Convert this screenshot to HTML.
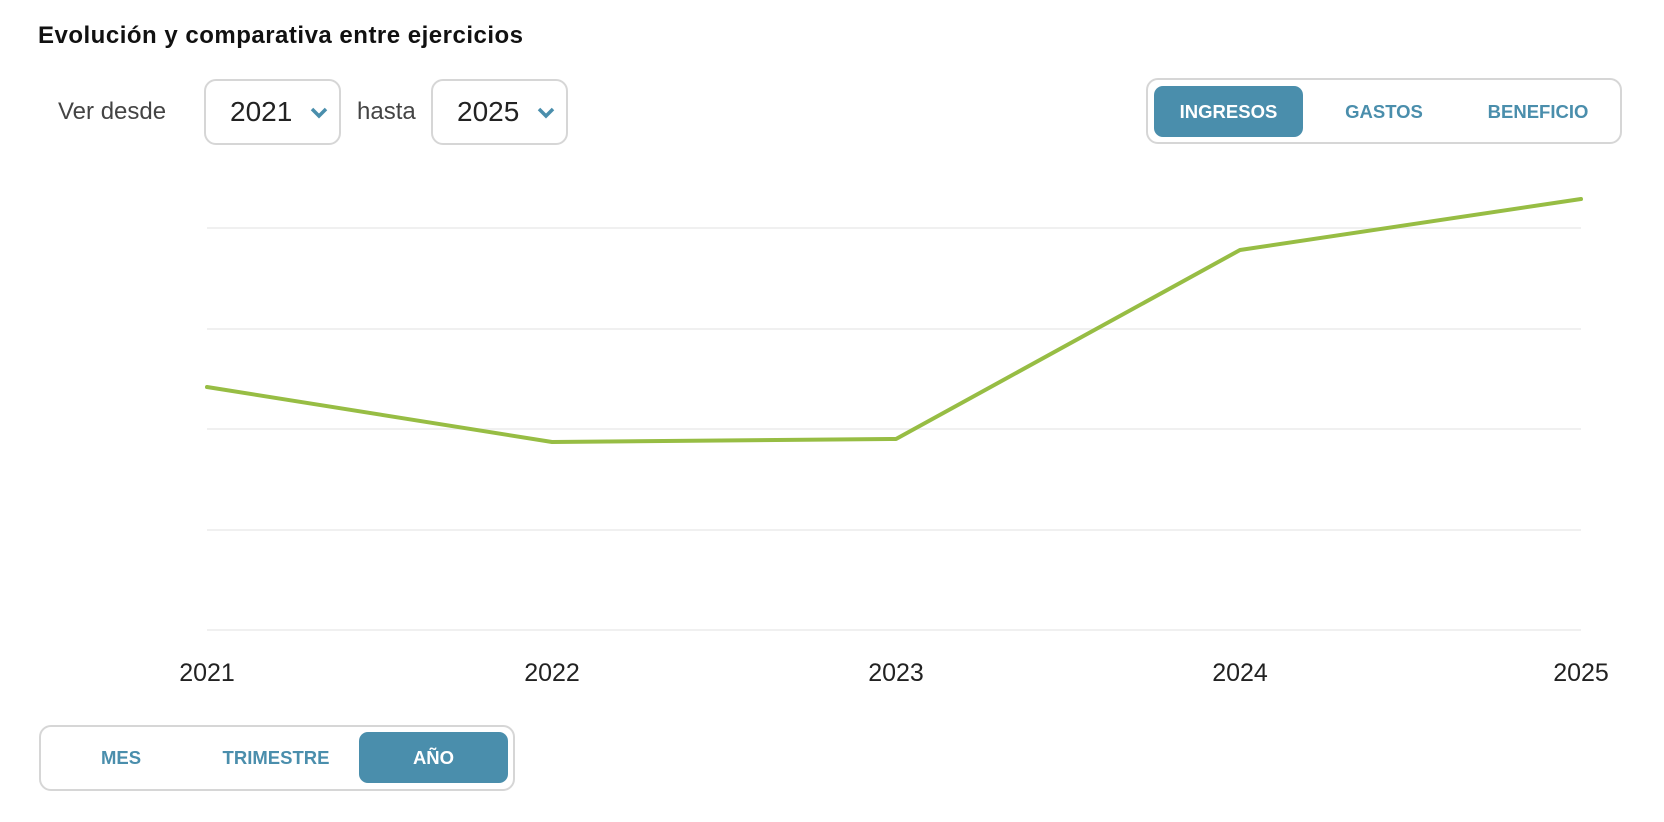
<!DOCTYPE html>
<html><head><meta charset="utf-8"><style>
body{margin:0;width:1664px;height:822px;background:#fff;font-family:"Liberation Sans",sans-serif;position:relative;overflow:hidden}
.a{position:absolute}
.title{left:38px;top:22px;font-size:24px;font-weight:bold;color:#111;letter-spacing:0.5px}
.lbl{font-size:24px;color:#444}
.sel{border:2px solid #d6d6d6;border-radius:12px;box-sizing:border-box;font-size:28px;color:#222}
.grp{border:2px solid #d6d6d6;border-radius:12px;box-sizing:border-box}
.btn{position:absolute;font-size:18.5px;font-weight:bold;color:#4a8eac;text-align:center;transform:translateX(-50%)}
.act{background:#4a8eac;color:#fff;border-radius:9px;transform:none}
.yr{font-size:25px;color:#222;transform:translateX(-50%)}
</style></head><body>
<div class="a title">Evolución y comparativa entre ejercicios</div>
<div class="a lbl" style="left:58px;top:98px">Ver desde</div>
<div class="a sel" style="left:204px;top:79px;width:137px;height:66px"><span class="a" style="left:24px;top:15px">2021</span>
<svg class="a" style="left:104px;top:26px" width="18" height="12"><path d="M2 2 L9 9 L16 2" stroke="#4a8eac" stroke-width="3.5" fill="none"/></svg></div>
<div class="a lbl" style="left:357px;top:98px">hasta</div>
<div class="a sel" style="left:431px;top:79px;width:137px;height:66px"><span class="a" style="left:24px;top:15px">2025</span>
<svg class="a" style="left:104px;top:26px" width="18" height="12"><path d="M2 2 L9 9 L16 2" stroke="#4a8eac" stroke-width="3.5" fill="none"/></svg></div>
<div class="a grp" style="left:1146px;top:78px;width:476px;height:66px"></div>
<div class="btn act" style="left:1154px;top:86px;width:149px;height:51px;line-height:51px">INGRESOS</div>
<div class="btn" style="left:1384px;top:86px;line-height:51px">GASTOS</div>
<div class="btn" style="left:1538px;top:86px;line-height:51px">BENEFICIO</div>
<svg class="a" style="left:0;top:0" width="1664" height="822">
<g stroke="#ececec" stroke-width="1.5">
<line x1="207" y1="228" x2="1581" y2="228"/><line x1="207" y1="329" x2="1581" y2="329"/>
<line x1="207" y1="429" x2="1581" y2="429"/><line x1="207" y1="530" x2="1581" y2="530"/>
<line x1="207" y1="630" x2="1581" y2="630"/></g>
<polyline points="207,387 552,442 896,439 1240,250 1581,199" fill="none" stroke="#97bd44" stroke-width="4" stroke-linejoin="round" stroke-linecap="round"/>
</svg>
<div class="a yr" style="left:207px;top:659px">2021</div>
<div class="a yr" style="left:552px;top:659px">2022</div>
<div class="a yr" style="left:896px;top:659px">2023</div>
<div class="a yr" style="left:1240px;top:659px">2024</div>
<div class="a yr" style="left:1581px;top:659px">2025</div>
<div class="a grp" style="left:39px;top:725px;width:476px;height:66px"></div>
<div class="btn" style="left:121px;top:732px;line-height:51px">MES</div>
<div class="btn" style="left:276px;top:732px;line-height:51px">TRIMESTRE</div>
<div class="btn act" style="left:359px;top:732px;width:149px;height:51px;line-height:51px">AÑO</div>
</body></html>
